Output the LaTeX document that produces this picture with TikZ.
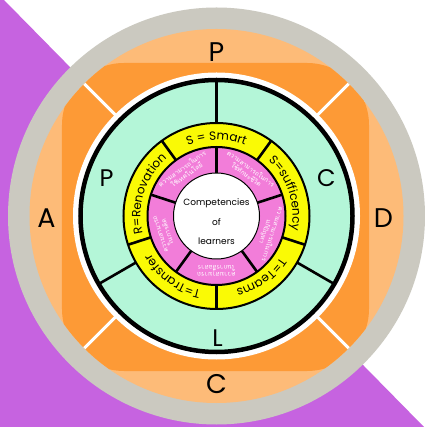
\documentclass[tikz,border=0pt]{standalone}
\usepackage{fontspec}
\setsansfont{Poppins}
\newfontfamily\thaifont[Script=Thai]{Loma}
\usetikzlibrary{decorations.text}
\definecolor{bgpurple}{HTML}{C663E0}
\definecolor{ringgray}{HTML}{CBC9C0}
\definecolor{peach}{HTML}{FDBB78}
\definecolor{darkorange}{HTML}{FD9A36}
\definecolor{mint}{HTML}{B4F6D8}
\definecolor{ringyellow}{HTML}{FAFA05}
\definecolor{pinkring}{HTML}{F27DD9}
\tikzset{
  bigletter/.style={font=\sffamily\fontsize{27}{27}\selectfont, text=black, inner sep=0pt},
  midletter/.style={font=\sffamily\fontsize{24}{24}\selectfont, text=black, inner sep=0pt},
  centertext/.style={font=\sffamily\fontsize{9}{9}\selectfont, text=black, inner sep=0pt},
  thaitext/.style={text=white, font=\thaifont\fontsize{6.4}{7.6}\selectfont, align=center, inner sep=0pt},
  blackdiv/.style={black, line width=2.6pt},
  whitediv/.style={white, line width=3pt},
  ylab/.style={decorate, decoration={text along path, text align=center,
     text={|\sffamily\fontsize{12}{12}\selectfont|#1}}}
}
\begin{document}
\begin{tikzpicture}[x=1pt,y=1pt]
\useasboundingbox (-216.5,-211) rectangle (207.5,216);
% background
\fill[white] (-216.5,-211) rectangle (207.5,216);
\fill[bgpurple] (-216.5,216) -- (-212.5,216) -- (207.5,-211) -- (-216.5,-211) -- cycle;
% outer rings
\fill[ringgray] (0,0) circle[radius=208.5];
\fill[peach] (0,0) circle[radius=187];
\begin{scope}
  \clip (0,0) circle[radius=187];
  \fill[darkorange, rounded corners=62pt] (-154.5,-155) rectangle (152.5,153);
  \foreach \a in {45,135,225,315} \draw[whitediv] (\a:140) -- (\a:195);
\end{scope}
\fill[white] (0,0) circle[radius=143.5];
% mint ring
\filldraw[fill=mint, draw=black, line width=4.5pt] (0,0) circle[radius=136];
\foreach \a in {90,210,330} \draw[blackdiv] (\a:92) -- (\a:135);
% yellow ring
\filldraw[fill=ringyellow, draw=black, line width=2pt] (0,0) circle[radius=93];
\foreach \a in {54,126,198,270,342} \draw[blackdiv] (\a:69) -- (\a:93);
% pink ring
\filldraw[fill=pinkring, draw=black, line width=2pt] (0,0) circle[radius=69];
\foreach \a in {18,90,162,234,306} \draw[blackdiv] (\a:43) -- (\a:69);
% centre
\filldraw[fill=white, draw=black, line width=1pt] (0,0) circle[radius=43];
\node[centertext] (c1) at (0,13) {Competencies};
\node[centertext] (c2) at (0,-6) {of};
\node[centertext] (c3) at (0,-25) {learners};
% yellow labels
\path[ylab={S = Smart}] (126:76) arc[start angle=126, end angle=54, radius=76];
\path[ylab={S=sufficency}] (54:76) arc[start angle=54, end angle=-18, radius=76];
\path[ylab={T=Teams}] (-18:76) arc[start angle=-18, end angle=-90, radius=76];
\path[ylab={T=Transfer}] (270:76) arc[start angle=270, end angle=198, radius=76];
\path[ylab={R=Renovation}] (198:76) arc[start angle=198, end angle=126, radius=76];
% pink labels
\node[thaitext, rotate=36] (k1) at (126:55) {ความสามารถในการ\\ใช้เทคโนโลยี};
\node[thaitext, rotate=-36] (k2) at (54:55) {ความสามารถในการ\\ใช้ทักษะชีวิต};
\node[thaitext, rotate=252] (k3) at (342:55) {ความสามารถในการ\\แก้ปัญหา};
\node[thaitext, rotate=180] (k4) at (270:55) {ความสามารถ\\ในการสื่อสาร};
\node[thaitext, rotate=108] (k5) at (198:55) {ความสามารถ\\ในการคิด};
% mint letters
\node[midletter] (mP) at (-110,38) {P};
\node[midletter] (mC) at (110,38) {C};
\node[midletter] (mL) at (1,-122) {L};
% outer letters
\node[bigletter] (oP) at (0,164) {P};
\node[bigletter] (oA) at (-170,-2) {A};
\node[bigletter] (oD) at (167,-2) {D};
\node[bigletter] (oC) at (0,-168) {C};
\end{tikzpicture}
\end{document}
